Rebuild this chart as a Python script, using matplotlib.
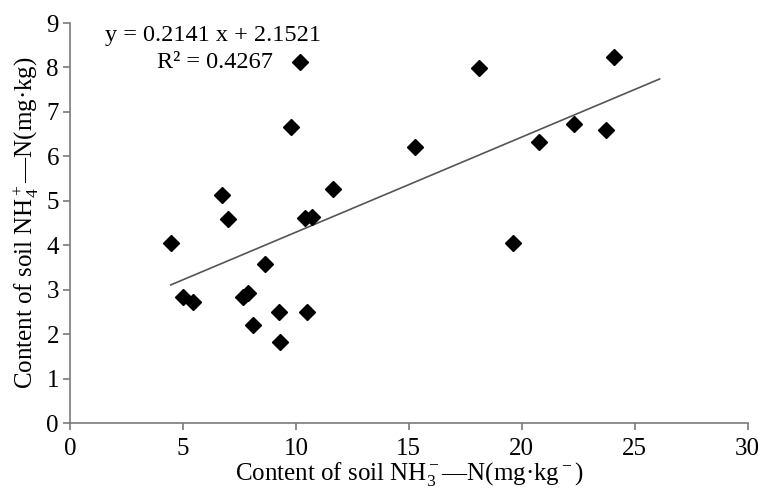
import matplotlib
matplotlib.use("Agg")
import matplotlib.pyplot as plt
import numpy as np

plt.rcParams['font.family'] = ['Liberation Serif', 'DejaVu Serif']
plt.rcParams['mathtext.fontset'] = 'custom'
plt.rcParams['mathtext.rm'] = 'Liberation Serif'
plt.rcParams['mathtext.it'] = 'Liberation Serif:italic'

x_vals = [4.46, 5.00, 5.46, 6.72, 7.01, 7.67, 7.89, 8.11, 8.63, 9.27, 9.30, 9.77,
          10.18, 10.40, 10.48, 10.73, 11.63, 15.29, 18.12, 19.61, 20.77, 22.31, 23.73, 24.09]
y_vals = [4.04, 2.83, 2.72, 5.13, 4.59, 2.83, 2.93, 2.20, 3.57, 2.49, 1.82, 6.65,
          8.12, 4.61, 2.49, 4.64, 5.26, 6.21, 7.99, 4.05, 6.32, 6.72, 6.59, 8.24]
slope = 0.2141
intercept = 2.1521
fit_range = [4.46, 26.1]
x_ticks = [0, 5, 10, 15, 20, 25, 30]
y_ticks = [0, 1, 2, 3, 4, 5, 6, 7, 8, 9]

fig = plt.figure(figsize=(7.59, 4.91), dpi=100)
ax = fig.add_axes([70/759, 1-423/491, (747.7-70)/759, (423-23)/491])

xf = np.array(fit_range)
ax.plot(xf, slope*xf + intercept, color='#555555', lw=1.2)
ax.plot(x_vals, y_vals, linestyle='none', marker='D', markersize=8, color='black')

ax.set_xlim(0, 30)
ax.set_ylim(0, 9)
ax.set_xticks(x_ticks)
ax.set_yticks(y_ticks)
for s in ['top', 'right']:
    ax.spines[s].set_visible(False)
for s in ['left', 'bottom']:
    ax.spines[s].set_color('#7a7a7a')
    ax.spines[s].set_linewidth(1.2)
ax.tick_params(axis='both', direction='out', length=5, width=1.2, color='#7a7a7a',
               labelsize=18, pad=3)
ax.tick_params(axis='x', pad=6)

ax.set_xlabel('Content of soil NH$_3^-$—N(mg·kg$^-$)', fontsize=18, labelpad=0)
ax.set_ylabel('Content of soil NH$_4^+$—N(mg·kg)', fontsize=18, labelpad=4)

ax.text(6.33, 8.73, f'y = {slope} x + {intercept}', fontsize=17.5, ha='center', va='center')
ax.text(6.4, 8.12, 'R² = 0.4267', fontsize=17.5, ha='center', va='center')

fig.savefig('out.png', dpi=100)
